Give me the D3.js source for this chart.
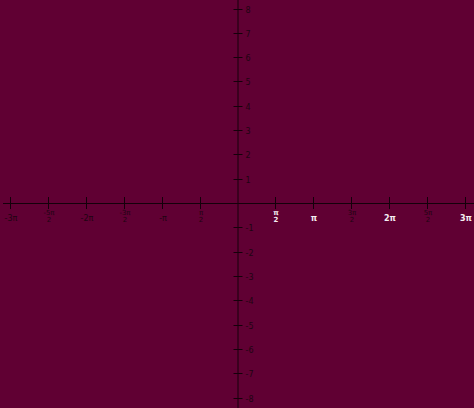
<!DOCTYPE html>
<html>
<head>
<meta charset="utf-8">
<script src="https://cdn.jsdelivr.net/npm/d3@7"></script>
<style>
  html, body { margin: 0; padding: 0; background: #600033; }
  svg { display: block; }
</style>
</head>
<body>
<div id="chart"></div>
<script>
// data
let xTickValues = [-6, -5, -4, -3, -2, -1, 1, 2, 3, 4, 5, 6]; // in units of pi/2
let xTickNums = ["-3\u03c0", "-5\u03c0", "-2\u03c0", "-3\u03c0", "-\u03c0", "\u03c0", "\u03c0", "\u03c0", "3\u03c0", "2\u03c0", "5\u03c0", "3\u03c0"];
let xTickDens = ["", "2", "", "2", "", "2", "2", "", "2", "", "2", ""];
let yTickValues = [-8, -7, -6, -5, -4, -3, -2, -1, 1, 2, 3, 4, 5, 6, 7, 8];

let w = 474, h = 408;
let svg = d3.select("#chart").append("svg")
  .attr("width", w)
  .attr("height", h);

svg.append("rect").attr("width", w).attr("height", h).attr("fill", "#600033");

let x = d3.scaleLinear().domain([-6, 6]).range([10, 465]);
let y = d3.scaleLinear().domain([-8, 8]).range([397.5, 8.5]);

let axisCol = "#14000a";
let lblCol = "#1e0412";

// axes lines
svg.append("line")
  .attr("x1", 3).attr("x2", w)
  .attr("y1", y(0) + 0.5).attr("y2", y(0) + 0.5)
  .attr("stroke", axisCol).attr("stroke-width", 1);
svg.append("line")
  .attr("x1", x(0) + 0.5).attr("x2", x(0) + 0.5)
  .attr("y1", 0).attr("y2", h)
  .attr("stroke", axisCol).attr("stroke-width", 1);

// x ticks
svg.append("g").selectAll("line").data(xTickValues).join("line")
  .attr("x1", d => Math.round(x(d)) + 0.5)
  .attr("x2", d => Math.round(x(d)) + 0.5)
  .attr("y1", y(0) - 6).attr("y2", y(0) + 6)
  .attr("stroke", axisCol);

// light labels (pi/2, pi, 2pi, 3pi look highlighted in the picture)
let lightIdx = new Set([6, 7, 9, 11]);

let xl = svg.append("g")
  .style("font-family", "DejaVu Sans")
  .style("font-size", "8px")
  .attr("text-anchor", "middle");
xTickValues.forEach((d, i) => {
  let light = lightIdx.has(i);
  let t = xl.append("text")
    .attr("x", Math.round(x(d)) + 1)
    .attr("fill", light ? "#f4eef2" : lblCol)
    .style("font-weight", light ? "bold" : "normal");
  if (xTickDens[i] === "") {
    t.attr("y", y(0) + 18).text(xTickNums[i]);
  } else {
    t.append("tspan").attr("x", Math.round(x(d)) + 1).attr("y", y(0) + 12).style("font-size", "7px").text(xTickNums[i]);
    t.append("tspan").attr("x", Math.round(x(d)) + 1).attr("y", y(0) + 19).style("font-size", "7px").text(xTickDens[i]);
  }
});

// y ticks
svg.append("g").selectAll("line").data(yTickValues).join("line")
  .attr("x1", x(0) - 4).attr("x2", x(0) + 5)
  .attr("y1", d => Math.round(y(d)) + 0.5)
  .attr("y2", d => Math.round(y(d)) + 0.5)
  .attr("stroke", axisCol);

svg.append("g").selectAll("text").data(yTickValues).join("text")
  .attr("x", x(0) + 8)
  .attr("y", d => Math.round(y(d)) + 3.5)
  .text(d => d < 0 ? "-" + Math.abs(d) : d)
  .style("font-family", "DejaVu Sans")
  .style("font-size", "8px")
  .attr("fill", lblCol);
</script>
</body>
</html>
